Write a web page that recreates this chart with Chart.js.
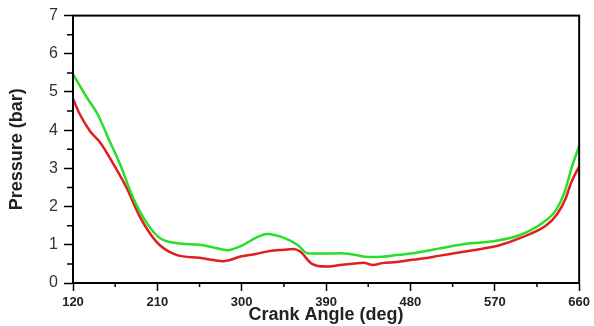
<!DOCTYPE html>
<html>
<head>
<meta charset="utf-8">
<script src="https://cdn.jsdelivr.net/npm/chart.js@4/dist/chart.umd.min.js"></script>
<style>
  html, body { margin: 0; padding: 0; background: #fff; }
  #wrap { width: 594px; height: 326px; }
</style>
</head>
<body>
<div id="wrap"><canvas id="pressureChart" width="594" height="326"></canvas></div>
<script>
// crank angle (deg) and pressure (bar)
const greenAngles = [120, 135, 146, 159, 170, 184, 199, 213, 231, 255, 270, 285, 300, 315, 327, 345, 360, 370, 390, 405, 420, 435, 450, 465, 480, 495, 510, 525, 540, 555, 575, 596, 620, 635, 645, 652, 660];
const greenPressure = [5.47, 4.85, 4.43, 3.72, 3.12, 2.24, 1.56, 1.17, 1.04, 1.0, 0.93, 0.86, 0.98, 1.18, 1.28, 1.18, 0.99, 0.78, 0.77, 0.78, 0.74, 0.68, 0.69, 0.73, 0.77, 0.83, 0.9, 0.97, 1.03, 1.06, 1.12, 1.25, 1.56, 1.9, 2.42, 3.02, 3.59];

const redAngles = [120, 127, 138, 149, 163, 177, 191, 202, 213, 231, 255, 270, 280, 300, 315, 330, 345, 355, 362, 375, 390, 405, 420, 430, 440, 450, 465, 480, 495, 510, 525, 540, 555, 575, 596, 625, 637, 646, 651, 660];
const redPressure = [4.82, 4.43, 3.98, 3.68, 3.12, 2.5, 1.75, 1.3, 0.98, 0.73, 0.66, 0.6, 0.57, 0.7, 0.76, 0.84, 0.87, 0.89, 0.83, 0.5, 0.43, 0.47, 0.51, 0.53, 0.47, 0.52, 0.55, 0.6, 0.65, 0.71, 0.77, 0.83, 0.89, 0.99, 1.17, 1.51, 1.82, 2.24, 2.6, 3.05];

const xTicks = [120, 210, 300, 390, 480, 570, 660];
const yTicks = [0, 1, 2, 3, 4, 5, 6, 7];

const toPoints = (xs, ys) => xs.map((x, i) => ({ x: x, y: ys[i] }));

// box frame + short minor ticks
const frameAndMinor = {
    id: 'frameAndMinor',
    afterDraw(chart) {
        const ctx = chart.ctx;
        const area = chart.chartArea;
        const xs = chart.scales.x;
        const ys = chart.scales.y;
        ctx.save();
        ctx.strokeStyle = '#000';
        ctx.lineWidth = 2;
        ctx.strokeRect(area.left, area.top, area.right - area.left, area.bottom - area.top);
        ctx.lineWidth = 1.5;
        ctx.beginPath();
        for (let a = 165; a < 660; a += 90) {
            const px = xs.getPixelForValue(a);
            ctx.moveTo(px, area.bottom);
            ctx.lineTo(px, area.bottom + 4);
        }
        for (let p = 0.5; p < 7; p += 1) {
            const py = ys.getPixelForValue(p);
            ctx.moveTo(area.left, py);
            ctx.lineTo(area.left - 6, py);
        }
        ctx.stroke();
        ctx.restore();
    }
};

new Chart(document.getElementById('pressureChart').getContext('2d'), {
    type: 'line',
    data: {
        datasets: [
            {
                label: 'green',
                data: toPoints(greenAngles, greenPressure),
                borderColor: 'rgb(40, 222, 40)',
                borderWidth: 2.5,
                pointRadius: 0,
                cubicInterpolationMode: 'monotone'
            },
            {
                label: 'red',
                data: toPoints(redAngles, redPressure),
                borderColor: 'rgb(224, 30, 30)',
                borderWidth: 2.5,
                pointRadius: 0,
                cubicInterpolationMode: 'monotone'
            }
        ]
    },
    options: {
        responsive: false,
        animation: false,
        layout: { padding: { top: 14, right: 14, left: 0, bottom: 0 } },
        plugins: { legend: { display: false }, tooltip: { enabled: false } },
        scales: {
            x: {
                type: 'linear',
                min: 120,
                max: 660,
                afterBuildTicks: s => { s.ticks = xTicks.map(v => ({ value: v })); },
                afterFit: s => { s.height = 43; },
                grid: { drawOnChartArea: false, tickLength: 8, tickColor: '#000', tickWidth: 1.5 },
                border: { color: '#000', width: 2 },
                ticks: {
                    color: '#222',
                    padding: 4,
                    maxRotation: 0,
                    font: { family: 'Liberation Sans, Arial, sans-serif', size: 13, weight: 'bold' }
                },
                title: {
                    display: true,
                    text: 'Crank Angle (deg)',
                    color: '#222',
                    padding: { top: 0, bottom: 0 },
                    font: { family: 'Liberation Sans, Arial, sans-serif', size: 18, weight: 'bold' }
                }
            },
            y: {
                min: 0,
                max: 7,
                afterBuildTicks: s => { s.ticks = yTicks.map(v => ({ value: v })); },
                afterFit: s => { s.width = 73; },
                grid: { drawOnChartArea: false, tickLength: 9, tickColor: '#000', tickWidth: 1.5 },
                border: { color: '#000', width: 2 },
                ticks: {
                    color: '#333',
                    padding: 6,
                    font: { family: 'Liberation Sans, Arial, sans-serif', size: 16 }
                },
                title: {
                    display: true,
                    text: 'Pressure (bar)',
                    color: '#222',
                    padding: { top: 6, bottom: 0 },
                    font: { family: 'Liberation Sans, Arial, sans-serif', size: 18, weight: 'bold' }
                }
            }
        }
    },
    plugins: [frameAndMinor]
});
</script>
</body>
</html>
